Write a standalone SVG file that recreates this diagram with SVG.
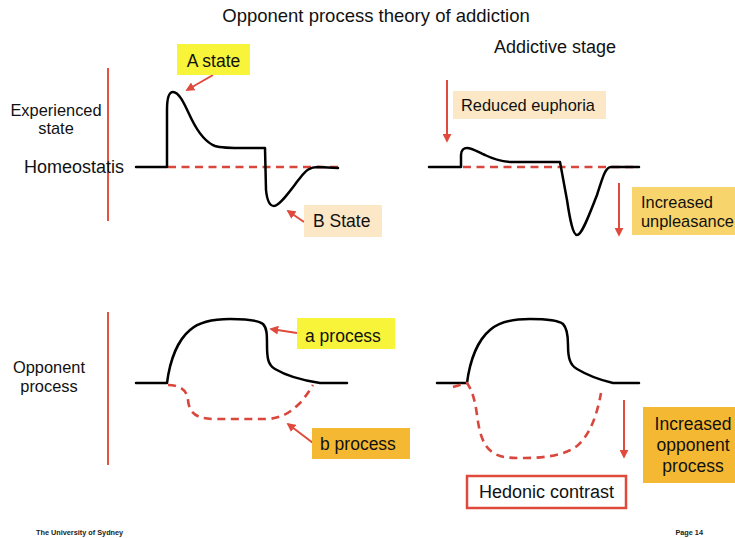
<svg xmlns="http://www.w3.org/2000/svg" width="735" height="538" viewBox="0 0 735 538">
<defs>
<style>
text{font-family:"Liberation Sans",Arial,sans-serif;fill:#111}
.t{font-size:16.4px}
.lbl{font-size:17.5px}
.curve{fill:none;stroke:#000;stroke-width:2.5;stroke-linejoin:round;stroke-linecap:round}
.dash{fill:none;stroke:#d9463c;stroke-width:2.6;stroke-dasharray:8 5.5}
.axis{stroke:#e8513f;stroke-width:2}
.arr{stroke:#e04a3c;stroke-width:2;fill:none;marker-end:url(#ah)}
.yel{fill:#f8f43a}
.beige{fill:#fce8c6}
.gold{fill:#f8d46c}
.orange{fill:#f5b833}
.foot{font-size:7.3px;font-weight:bold;fill:#222}
</style>
<marker id="ah" viewBox="0 0 10 10" refX="8" refY="5" markerWidth="4.5" markerHeight="4.5" orient="auto" markerUnits="strokeWidth">
<path d="M0,0 L10,5 L0,10 z" fill="#e04a3c"/>
</marker>
</defs>
<rect width="735" height="538" fill="#fff"/>

<text x="376" y="22" font-size="18.5" text-anchor="middle">Opponent process theory of addiction</text>
<text x="555" y="53" font-size="18" text-anchor="middle">Addictive stage</text>

<g id="axes">
<line class="axis" x1="108" y1="68" x2="108" y2="221"/>
<line class="axis" x1="108" y1="312" x2="108" y2="465"/>
</g>

<g id="axis-labels">
<text class="t" x="56" y="116" text-anchor="middle">Experienced</text>
<text class="t" x="56" y="134" text-anchor="middle">state</text>
<text x="24" y="173" font-size="18">Homeostatis</text>
<text class="t" x="49" y="373" text-anchor="middle">Opponent</text>
<text class="t" x="49" y="392" text-anchor="middle">process</text>
</g>

<g id="curves">
<path class="dash" d="M168,167 H338"/>
<path class="curve" d="M136,167 L167,167 L167,110 C167,96 170,92 173,92 C180,92 186,108 192,120 C198,132 205,142 215,146 C225,149 240,148 265,148 L266,190 C267,200 270,206 274,206 C280,206 292,188 300,178 C306,170 310,167 318,167 L338,168"/>
<path class="dash" d="M463,167 H636"/>
<path class="curve" d="M429,167 L461,167 L461,155 C461,150 464,148 467,148 C472,148 478,152 485,155 C493,159 500,161 510,162 L560,162 L567,200 C570,220 573,235 577,235 C582,235 589,215 597,195 C602,180 605,167 611,167 L639,167"/>
<path class="curve" d="M136,383 L167,383 C170,360 178,340 190,330 C200,321 215,319 230,319 C245,319 258,320 263,324 C267,328 267,335 267,345 C267,358 268,365 275,369 C285,375 300,380 320,383 L347,383"/>
<path class="dash" d="M168,385 C180,385 187,390 188,400 C189,412 195,419 215,419 L265,419 C280,419 290,413 300,403 C306,396 310,390 313,385"/>
<path class="curve" d="M437,383 L467,383 C470,360 478,340 490,330 C500,321 515,319 530,319 C545,319 558,320 563,324 C567,328 568,335 568,345 C568,358 570,365 577,369 C587,375 600,380 613,383 L639,383"/>
<path class="dash" d="M453,387 L467,383 C472,390 475,400 477,415 C479,430 482,445 492,452 C500,458 510,458 525,458 C545,458 565,455 577,446 C590,435 597,415 601,393"/>
</g>

<g id="connectors">
<line class="arr" x1="213" y1="75" x2="187" y2="90"/>
<line class="arr" x1="304" y1="222" x2="288" y2="211"/>
<line class="arr" x1="447" y1="80" x2="447" y2="141"/>
<line class="arr" x1="619" y1="183" x2="619" y2="235"/>
<line class="arr" x1="297" y1="333" x2="271" y2="329"/>
<line class="arr" x1="313" y1="443" x2="288" y2="424"/>
<line class="arr" x1="624" y1="400" x2="624" y2="457"/>
</g>

<g id="a-state">
<rect class="yel" x="177" y="44" width="73" height="31"/>
<text class="lbl" x="213.5" y="67" text-anchor="middle">A state</text>
</g>
<g id="b-state">
<rect class="beige" x="304" y="205" width="78" height="32"/>
<text class="lbl" x="313" y="227">B State</text>
</g>
<g id="reduced-euphoria">
<rect class="beige" x="453" y="91" width="153" height="28"/>
<text class="t" x="461" y="111">Reduced euphoria</text>
</g>
<g id="increased-unpleasance">
<rect class="gold" x="632" y="187" width="103" height="48"/>
<text class="t" x="641" y="208">Increased</text>
<text class="t" x="641" y="227">unpleasance</text>
</g>
<g id="a-process">
<rect class="yel" x="297" y="318" width="98" height="31"/>
<text class="lbl" x="305" y="342">a process</text>
</g>
<g id="b-process">
<rect class="orange" x="312" y="428" width="98" height="31"/>
<text class="lbl" x="320" y="450">b process</text>
</g>
<g id="increased-opponent">
<rect class="orange" x="643" y="407" width="92" height="76"/>
<text class="lbl" x="693" y="430" text-anchor="middle">Increased</text>
<text class="lbl" x="693" y="451" text-anchor="middle">opponent</text>
<text class="lbl" x="693" y="472" text-anchor="middle">process</text>
</g>
<g id="hedonic-contrast">
<rect x="467" y="476" width="159" height="32" fill="#fff" stroke="#e04a3c" stroke-width="2.5"/>
<text x="546.5" y="498" font-size="18" text-anchor="middle">Hedonic contrast</text>
</g>

<g id="footer">
<text class="foot" x="36" y="535">The University of Sydney</text>
<text class="foot" x="703" y="535" text-anchor="end">Page 14</text>
</g>
</svg>
